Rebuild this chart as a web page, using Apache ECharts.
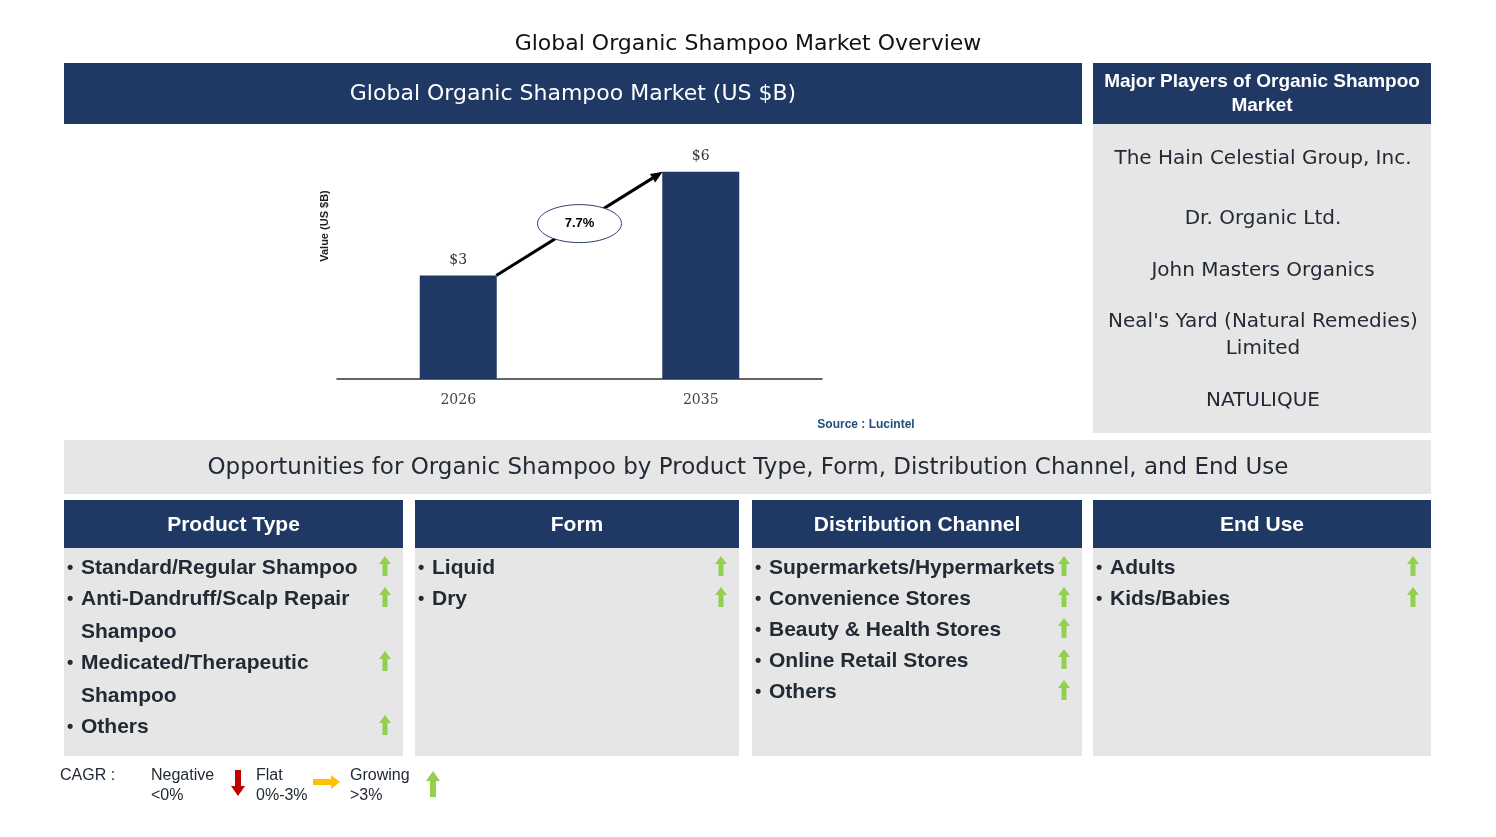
<!DOCTYPE html>
<html><head><meta charset="utf-8">
<script src="https://cdn.jsdelivr.net/npm/echarts@6/dist/echarts.min.js"></script>
<style>html,body{margin:0;padding:0;background:#fff}#c{width:1496px;height:837px}</style>
</head><body><div id="c"></div>
<script>
const years = ['2026', '2035'];
const values = [3, 6];
const valueLabels = ['$3', '$6'];
const cagr = '7.7%';
const players = ["The Hain Celestial Group, Inc.", "Dr. Organic Ltd.", "John Masters Organics", "Neal's Yard (Natural Remedies)\nLimited", "NATULIQUE"];
const productType = ['Standard/Regular Shampoo', 'Anti-Dandruff/Scalp Repair\nShampoo', 'Medicated/Therapeutic\nShampoo', 'Others'];
const form = ['Liquid', 'Dry'];
const channel = ['Supermarkets/Hypermarkets', 'Convenience Stores', 'Beauty & Health Stores', 'Online Retail Stores', 'Others'];
const endUse = ['Adults', 'Kids/Babies'];

const NAVY = '#1f3864', GREY = '#e7e6e6', TXT = '#222a35', GREEN = '#92d050';
const F = '"Liberation Sans", Arial, sans-serif';
const D = '"DejaVu Sans", sans-serif';
const chart = echarts.init(document.getElementById('c'));

function rect(x, y, w, h, fill) { return {type:'rect', silent:true, shape:{x, y, width:w, height:h}, style:{fill}}; }
function txt(x, y, t, size, fill, align, weight, lh, fam) {
  return {type:'text', silent:true, x, y, style:{text:t, font:(weight||'bold')+' '+size+'px '+(fam||F), fill, align:align||'center', verticalAlign:'middle', lineHeight:lh}};
}
function up(x, y, col) {
  return {type:'polygon', silent:true, shape:{points:[[x,y],[x+6,y+8],[x+2.5,y+8],[x+2.5,y+20],[x-2.5,y+20],[x-2.5,y+8],[x-6,y+8]]}, style:{fill:col||GREEN}};
}
const g = [];
g.push(txt(748, 44, 'Global Organic Shampoo Market Overview', 22, '#111', 'center', 'normal', null, D));
g.push(rect(64, 63, 1018, 61, NAVY));
g.push(txt(573, 94, 'Global Organic Shampoo Market (US $B)', 22, '#fff', 'center', 'normal', null, D));
g.push(rect(1093, 63, 338, 61, NAVY));
g.push(txt(1262, 94, 'Major Players of Organic Shampoo\nMarket', 19, '#fff', 'center', 'bold', 24));
g.push(rect(1093, 124, 338, 309, GREY));
const py = [159, 219, 271, 335, 401];
players.forEach((p, i) => g.push(txt(1263, py[i], p, 20, TXT, 'center', 'normal', 27, D)));
g.push(txt(866, 425, 'Source : Lucintel', 12, '#1f4e79', 'center', 'bold'));
g.push({type:'text', silent:true, x:325, y:226, rotation:Math.PI/2, style:{text:'Value (US $B)', font:'bold 11px '+F, fill:'#222', align:'center', verticalAlign:'middle'}});
g.push(rect(64, 440, 1367, 54, GREY));
g.push(txt(748, 468, 'Opportunities for Organic Shampoo by Product Type, Form, Distribution Channel, and End Use', 23, TXT, 'center', 'normal', null, D));
const cols = [[64, 339, 'Product Type', productType], [415, 324, 'Form', form], [752, 330, 'Distribution Channel', channel], [1093, 338, 'End Use', endUse]];
cols.forEach(([x, w, h, items]) => {
  g.push(rect(x, 500, w, 48, NAVY));
  g.push(txt(x + w / 2, 525, h, 21, '#fff', 'center', 'bold'));
  g.push(rect(x, 548, w, 208, GREY));
  let y = 568;
  items.forEach(it => {
    const lines = it.split('\n');
    g.push(up(x + w - 18, y - 12));
    lines.forEach((l, k) => {
      if (k === 0) g.push(txt(x + 3, y, '•', 18, TXT, 'left', 'bold'));
      g.push(txt(x + 17, y, l, 21, TXT, 'left', 'bold'));
      y += (k === lines.length - 1) ? 31 : 33;
    });
  });
});
g.push(txt(60, 776, 'CAGR :', 16, TXT, 'left', 'normal'));
g.push(txt(151, 786, 'Negative\n<0%', 16, TXT, 'left', 'normal', 20));
g.push({type:'polygon', silent:true, shape:{points:[[238,796],[245,786],[241,786],[241,770],[235,770],[235,786],[231,786]]}, style:{fill:'#c00000'}});
g.push(txt(256, 786, 'Flat\n0%-3%', 16, TXT, 'left', 'normal', 20));
g.push({type:'polygon', silent:true, shape:{points:[[340,782],[331,775],[331,779],[313,779],[313,785],[331,785],[331,789]]}, style:{fill:'#ffc000'}});
g.push(txt(350, 786, 'Growing\n>3%', 16, TXT, 'left', 'normal', 20));
g.push({type:'polygon', silent:true, shape:{points:[[433,771],[440,781],[436,781],[436,797],[430,797],[430,781],[426,781]]}, style:{fill:GREEN}});

chart.setOption({
  animation:false,
  grid:{left:337, right:674, top:120, bottom:458},
  xAxis:{type:'category', data:years, axisTick:{show:false}, axisLine:{lineStyle:{color:'#333', width:1.5}},
    axisLabel:{margin:14, fontSize:14, color:'#444', fontFamily:'"DejaVu Serif", serif'}},
  yAxis:{type:'value', min:0, max:7.5, show:false},
  series:[{type:'bar', data:values, barWidth:77, itemStyle:{color:'#203864'},
    label:{show:true, position:'top', distance:8, fontSize:14, color:'#333', fontFamily:'"DejaVu Serif", serif',
      formatter:p => valueLabels[p.dataIndex]}}],
  graphic:g
});
const p0 = chart.convertToPixel({gridIndex:0}, [0, values[0]]);
const p1 = chart.convertToPixel({gridIndex:0}, [1, values[1]]);
const a = [p0[0] + 38, p0[1]], b = [p1[0] - 38, p1[1]];
const ang = Math.atan2(b[1] - a[1], b[0] - a[0]);
const hx = b[0], hy = b[1], L = 12, W = 5;
const bx = hx - L * Math.cos(ang), by = hy - L * Math.sin(ang);
const mid = [(a[0] + b[0]) / 2, (a[1] + b[1]) / 2];
chart.setOption({
  graphic:g.concat([
    {type:'line', silent:true, shape:{x1:a[0], y1:a[1], x2:bx, y2:by}, style:{stroke:'#000', lineWidth:3}},
    {type:'polygon', silent:true, shape:{points:[[hx,hy],[bx - W*Math.sin(ang), by + W*Math.cos(ang)],[bx + W*Math.sin(ang), by - W*Math.cos(ang)]]}, style:{fill:'#000'}},
    {type:'ellipse', silent:true, shape:{cx:mid[0], cy:mid[1], rx:42, ry:19}, style:{fill:'#fff', stroke:'#2f3d6b', lineWidth:1}},
    {type:'text', silent:true, x:mid[0], y:mid[1], style:{text:cagr, font:'bold 13px '+F, fill:'#000', align:'center', verticalAlign:'middle'}}
  ])
});
</script></body></html>
